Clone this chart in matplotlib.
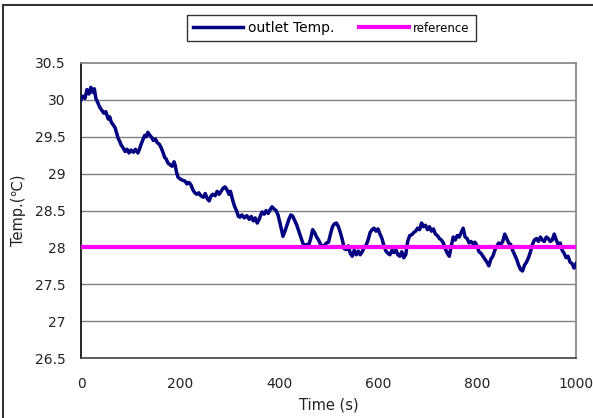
import matplotlib
matplotlib.use('Agg')
import matplotlib.pyplot as plt
from matplotlib.lines import Line2D

# outlet temperature
time_s = [0, 4, 8, 12, 16, 20, 24, 27, 30, 34, 38, 42, 46, 50, 55, 58, 61, 65, 69, 72,
          75, 78, 81, 85, 89, 93, 97, 101, 106, 110, 115, 118, 121, 125, 129, 132, 135, 139, 143, 146,
          150, 154, 158, 162, 166, 169, 172, 176, 180, 184, 188, 190, 193, 196, 200, 205, 210, 214, 218, 222,
          226, 230, 234, 238, 242, 247, 251, 255, 259, 262, 266, 271, 275, 279, 283, 287, 291, 295, 299, 302,
          306, 310, 314, 318, 321, 325, 330, 335, 340, 344, 348, 352, 356, 360, 363, 366, 370, 374, 378, 382,
          386, 390, 394, 398, 402, 405, 408, 412, 416, 420, 424, 428, 432, 436, 440, 444, 448, 452, 456, 460,
          464, 468, 472, 476, 480, 484, 488, 492, 496, 500, 504, 508, 512, 516, 520, 524, 528, 532, 536, 540,
          544, 548, 552, 556, 560, 564, 568, 572, 576, 580, 584, 588, 592, 596, 600, 604, 608, 612, 616, 620,
          624, 628, 632, 636, 640, 644, 648, 652, 656, 660, 664, 668, 672, 676, 680, 684, 688, 692, 696, 700,
          704, 708, 712, 716, 720, 724, 728, 732, 736, 740, 744, 748, 752, 756, 760, 764, 768, 772, 776, 780,
          784, 788, 792, 796, 800, 804, 808, 812, 816, 820, 824, 828, 832, 836, 840, 844, 848, 852, 856, 860,
          864, 868, 872, 876, 880, 884, 888, 892, 896, 900, 904, 908, 912, 916, 920, 924, 928, 932, 936, 940,
          944, 948, 952, 956, 960, 964, 968, 972, 976, 980, 984, 988, 992, 996, 1000]
outlet_temp = [30.00, 30.05, 30.02, 30.14, 30.08, 30.17, 30.10, 30.15, 30.02, 29.96, 29.90, 29.86, 29.82, 29.84, 29.74, 29.77, 29.70, 29.66, 29.62, 29.55,
               29.48, 29.44, 29.39, 29.35, 29.30, 29.33, 29.28, 29.32, 29.29, 29.33, 29.28, 29.33, 29.39, 29.46, 29.52, 29.50, 29.56, 29.52, 29.49, 29.45,
               29.47, 29.42, 29.40, 29.35, 29.28, 29.22, 29.20, 29.14, 29.12, 29.10, 29.16, 29.12, 29.02, 28.95, 28.93, 28.91, 28.90, 28.86, 28.88, 28.85,
               28.78, 28.74, 28.72, 28.74, 28.70, 28.68, 28.73, 28.66, 28.63, 28.69, 28.72, 28.70, 28.76, 28.72, 28.76, 28.80, 28.82, 28.78, 28.72, 28.76,
               28.65, 28.56, 28.50, 28.42, 28.41, 28.44, 28.40, 28.43, 28.38, 28.42, 28.36, 28.40, 28.33, 28.38, 28.44, 28.48, 28.45, 28.50, 28.46, 28.51,
               28.55, 28.52, 28.50, 28.44, 28.33, 28.24, 28.15, 28.22, 28.30, 28.38, 28.44, 28.42, 28.36, 28.30, 28.22, 28.14, 28.06, 28.01, 28.04, 28.03,
               28.12, 28.24, 28.20, 28.14, 28.10, 28.04, 28.01, 28.03, 28.06, 28.07, 28.18, 28.28, 28.32, 28.33, 28.28, 28.20, 28.10, 27.98, 27.97, 28.02,
               27.92, 27.88, 27.96, 27.90, 27.95, 27.90, 27.94, 28.00, 28.03, 28.10, 28.20, 28.24, 28.26, 28.22, 28.25, 28.18, 28.12, 28.02, 27.95, 27.92,
               27.90, 27.96, 27.93, 27.97, 27.90, 27.88, 27.94, 27.86, 27.90, 28.08, 28.16, 28.17, 28.20, 28.22, 28.26, 28.24, 28.33, 28.28, 28.30, 28.24,
               28.28, 28.22, 28.25, 28.18, 28.16, 28.12, 28.10, 28.06, 27.98, 27.92, 27.88, 28.02, 28.14, 28.10, 28.16, 28.14, 28.20, 28.26, 28.14, 28.12,
               28.06, 28.08, 28.05, 28.07, 28.02, 27.94, 27.92, 27.88, 27.84, 27.80, 27.75, 27.84, 27.88, 27.96, 28.02, 28.06, 28.04, 28.08, 28.18, 28.12,
               28.06, 28.04, 27.96, 27.90, 27.84, 27.76, 27.70, 27.68, 27.76, 27.80, 27.86, 27.94, 28.04, 28.10, 28.12, 28.08, 28.14, 28.10, 28.08, 28.14,
               28.12, 28.08, 28.10, 28.18, 28.10, 28.04, 28.06, 27.96, 27.92, 27.86, 27.88, 27.80, 27.78, 27.72, 27.78]

ref_time = [0, 1000]
ref_temp = [28.0, 28.0]

y_ticks = [26.5, 27, 27.5, 28, 28.5, 29, 29.5, 30, 30.5]
y_labels = ['26.5', '27', '27.5', '28', '28.5', '29', '29.5', '30', '30.5']
x_ticks = [0, 200, 400, 600, 800, 1000]

fig = plt.figure(figsize=(5.93, 4.18), dpi=100)
ax = fig.add_axes([81/593, 1 - 358/418, 495/593, 295/418])

# outer frame, only the left and top edges show
fig.add_artist(Line2D([3/593, 3/593], [0, 1 - 5/418], color='#333333', lw=1.5))
fig.add_artist(Line2D([3/593, 1], [1 - 5/418, 1 - 5/418], color='#333333', lw=1.5))

for y in y_ticks[1:-1]:
    ax.axhline(y, color='#808080', lw=1, zorder=1)

ax.plot(time_s, outlet_temp, color='#000080', lw=2.5, zorder=3, label='outlet Temp.')
ax.plot(ref_time, ref_temp, color='#FF00FF', lw=3, zorder=4, label='reference')

ax.set_xlim(0, 1000)
ax.set_ylim(26.5, 30.5)
ax.set_xticks(x_ticks)
ax.set_yticks(y_ticks)
ax.set_yticklabels(y_labels)
ax.tick_params(length=0, labelsize=10, colors='#222222')
ax.tick_params(axis='y', pad=11)
ax.tick_params(axis='x', pad=14)

ax.spines['left'].set_color('black')
ax.spines['bottom'].set_color('#404040')
ax.spines['top'].set_color('#808080')
ax.spines['right'].set_color('#808080')
for s in ax.spines.values():
    s.set_linewidth(1.2)

ax.set_ylabel('Temp.(\u2103)', fontsize=10.5, color='#222222')
ax.yaxis.set_label_coords(-0.112, 0.5)
ax.set_xlabel('Time (s)', fontsize=10.5, color='#222222')
ax.xaxis.set_label_coords(0.5, -0.135)

leg = fig.legend(loc='center', bbox_to_anchor=(331.5/593, 1 - 28/418), ncol=2,
                 frameon=True, fancybox=False, edgecolor='black', fontsize=10,
                 handlelength=3.6, handletextpad=0.3, columnspacing=1.8,
                 borderpad=0.45)
leg.get_frame().set_linewidth(1.0)
leg.get_texts()[1].set_fontsize(8.5)

fig.savefig('out.png', dpi=100)
